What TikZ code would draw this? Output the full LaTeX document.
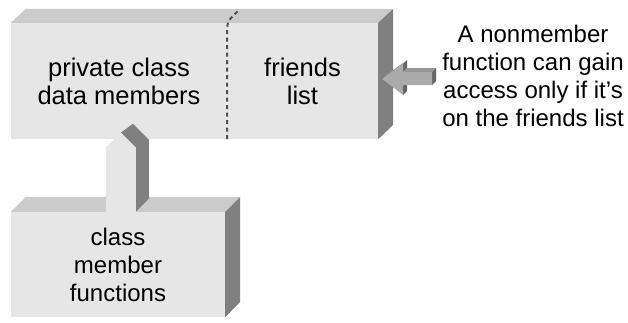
\documentclass[tikz,border=0pt]{standalone}
\usepackage{fontspec}
\setmainfont{Liberation Sans}
\usetikzlibrary{positioning,calc}
\definecolor{boxfront}{HTML}{E6E6E6}
\definecolor{boxtop}{HTML}{CBCBCB}
\definecolor{boxside}{HTML}{808080}
\definecolor{arrlight}{HTML}{AAAAAA}
\definecolor{arrmid}{HTML}{959595}
\definecolor{arrdark}{HTML}{656565}
\definecolor{divider}{HTML}{505050}

\begin{document}
\begin{tikzpicture}[x=1pt,y=1pt,
  front/.style={rectangle,fill=boxfront,inner sep=0pt,align=center,
                font=\fontsize{24}{28}\selectfont},
  bigtext/.style={font=\fontsize{25.5}{28}\selectfont},
  topface/.style={fill=boxtop},
  sideface/.style={fill=boxside},
  note/.style={align=center,font=\fontsize{24}{28}\selectfont}
]
  \useasboundingbox (0,0) rectangle (628,322);

  % ---- Class box: data members + friends list -----------------
  \node[front,bigtext,minimum width=216,minimum height=116] (data) at (119,241)
    {private class\\data members};
  \node[front,bigtext,minimum width=151,minimum height=116] (friends) at (302.5,241)
    {friends\\list};

  \fill[topface] (data.north west) -- ++(15,14) -- ([shift={(15,14)}]friends.north east)
    -- (friends.north east) -- cycle;
  \fill[sideface] (friends.north east) -- ++(15,14) -- ++(0,-116)
    -- (friends.south east) -- cycle;

  % dashed split between the two parts
  \draw[divider,line width=2pt,dash pattern=on 4pt off 3.5pt]
    (data.south east) -- ([yshift=-5pt]data.north east)
    to[out=90,in=225] ([shift={(11,12)}]data.north east);

  % ---- Member functions box -----------------------------------
  \node[front,minimum width=214,minimum height=105] (member) at (118,57.5)
    {class\\member\\functions};

  \fill[topface] (member.north west) -- ++(15,15) -- ([shift={(15,15)}]member.north east)
    -- (member.north east) -- cycle;
  \fill[sideface] (member.north east) -- ++(15,15) -- ++(0,-105)
    -- (member.south east) -- cycle;

  % ---- Block arrow: member functions -> data members ----------
  \begin{scope}[shift={(member.north west)}]
    \fill[sideface] (110,79) -- (122,88) -- (138,72) -- (138,13)
      -- (125,0) -- (125,64) -- cycle;
    \fill[boxfront] (95,0) -- (95,64) -- (110,79) -- (125,64) -- (125,0) -- cycle;
  \end{scope}

  % ---- Block arrow: nonmember -> friends list -----------------
  \begin{scope}[shift={(friends.east)}]
    \fill[arrmid] (4,2) -- (25,17) -- (29,21) -- (8,6) -- cycle;
    \fill[arrdark] (25,17) -- (29,21) -- (29,13) -- (25,9) -- cycle;
    \fill[arrdark] (25,-14) -- (29,-10) -- (29,-4) -- (25,-4) -- cycle;
    \fill[arrmid] (25,9) -- (54,9) -- (58,13) -- (29,13) -- cycle;
    \fill[arrdark] (54,9) -- (58,13) -- (58,0) -- (54,-4) -- cycle;
    \fill[arrlight] (4,2) -- (25,17) -- (25,9) -- (54,9) -- (54,-4)
      -- (25,-4) -- (25,-14) -- cycle;
  \end{scope}

  \node[note] (nonmember) at (533,246)
    {A nonmember\\function can gain\\access only if it’s\\on the friends list};

\end{tikzpicture}
\end{document}
